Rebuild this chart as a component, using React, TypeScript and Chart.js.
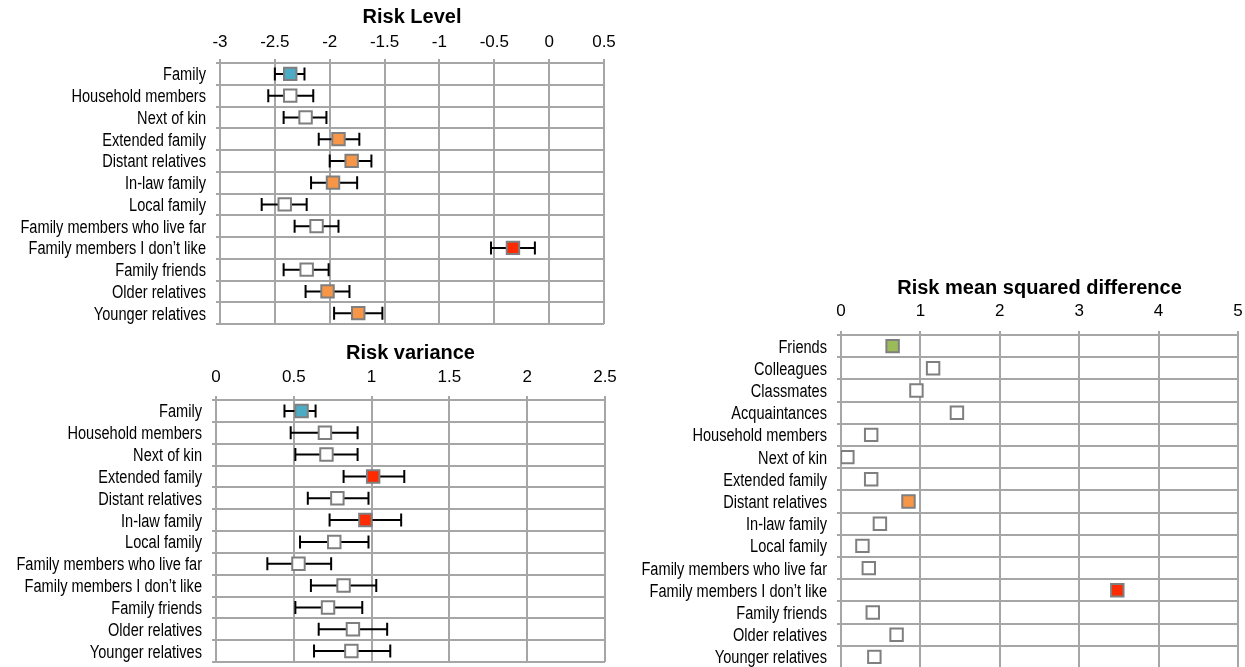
import React, { useEffect, useRef } from 'react';
import { Chart, registerables } from 'chart.js';

Chart.register(...registerables);

// ---------- Data ----------
const familyLabels = [
  'Family',
  'Household members',
  'Next of kin',
  'Extended family',
  'Distant relatives',
  'In-law family',
  'Local family',
  'Family members who live far',
  'Family members I don\u2019t like',
  'Family friends',
  'Older relatives',
  'Younger relatives',
];

const levelMean = [-2.36, -2.36, -2.22, -1.92, -1.8, -1.97, -2.41, -2.12, -0.33, -2.21, -2.02, -1.74];
const levelLow = [-2.5, -2.56, -2.42, -2.1, -2.0, -2.17, -2.62, -2.32, -0.53, -2.42, -2.22, -1.96];
const levelHigh = [-2.23, -2.15, -2.03, -1.73, -1.62, -1.75, -2.21, -1.92, -0.13, -2.01, -1.82, -1.52];
const levelColorKeys = ['blue', 'white', 'white', 'orange', 'orange', 'orange', 'white', 'white', 'red', 'white', 'orange', 'orange'];

const varianceMean = [0.55, 0.7, 0.71, 1.01, 0.78, 0.96, 0.76, 0.53, 0.82, 0.72, 0.88, 0.87];
const varianceLow = [0.44, 0.48, 0.51, 0.82, 0.59, 0.73, 0.54, 0.33, 0.61, 0.51, 0.66, 0.63];
const varianceHigh = [0.64, 0.91, 0.91, 1.21, 0.98, 1.19, 0.98, 0.74, 1.03, 0.94, 1.1, 1.12];
const varianceColorKeys = ['blue', 'white', 'white', 'red', 'white', 'red', 'white', 'white', 'white', 'white', 'white', 'white'];

const msdLabels = [
  'Friends',
  'Colleagues',
  'Classmates',
  'Acquaintances',
  'Household members',
  'Next of kin',
  'Extended family',
  'Distant relatives',
  'In-law family',
  'Local family',
  'Family members who live far',
  'Family members I don\u2019t like',
  'Family friends',
  'Older relatives',
  'Younger relatives',
];
const msdValues = [0.65, 1.16, 0.95, 1.46, 0.38, 0.08, 0.38, 0.85, 0.49, 0.27, 0.35, 3.48, 0.4, 0.7, 0.42];
const msdColorKeys = ['green', 'white', 'white', 'white', 'white', 'white', 'white', 'orange', 'white', 'white', 'white', 'red', 'white', 'white', 'white'];

// ---------- Styles ----------
const palette: Record<string, string> = {
  white: '#ffffff',
  blue: '#4bacc6',
  orange: '#f79646',
  red: '#ff2a00',
  green: '#9bbb59',
};
const gridColor = '#a6a6a6';
const tickFont = "'Liberation Sans', Arial, sans-serif";

// Error bars drawn from the x scale
function errorBarPlugin(lows: number[] | null, highs: number[] | null) {
  return {
    id: 'errorBars',
    beforeDatasetsDraw(chart: any) {
      if (!lows || !highs) return;
      const { ctx } = chart;
      const x = chart.scales.x;
      const y = chart.scales.y;
      ctx.save();
      ctx.strokeStyle = '#000';
      ctx.lineWidth = 2;
      lows.forEach((lo, i) => {
        const yy = y.getPixelForValue(i);
        const x1 = x.getPixelForValue(lo);
        const x2 = x.getPixelForValue(highs[i]);
        ctx.beginPath();
        ctx.moveTo(x1, yy);
        ctx.lineTo(x2, yy);
        ctx.moveTo(x1, yy - 6.5);
        ctx.lineTo(x1, yy + 6.5);
        ctx.moveTo(x2, yy - 6.5);
        ctx.lineTo(x2, yy + 6.5);
        ctx.stroke();
      });
      ctx.restore();
    },
  };
}

// Category labels in a narrow (horizontally condensed) face
const narrowLabelPlugin = {
  id: 'narrowLabels',
  afterDraw(chart: any) {
    const { ctx } = chart;
    const y = chart.scales.y;
    const labels: string[] = chart.data.labels;
    ctx.save();
    ctx.fillStyle = '#000';
    ctx.font = "18px 'Liberation Sans', Arial, sans-serif";
    ctx.textAlign = 'right';
    ctx.textBaseline = 'middle';
    labels.forEach((lab, i) => {
      const yy = y.getPixelForValue(i);
      ctx.save();
      ctx.translate(y.right - 14, yy + 1.5);
      ctx.scale(0.81, 1);
      ctx.fillText(lab, 0, 0);
      ctx.restore();
    });
    ctx.restore();
  },
};

interface Cfg {
  title: string;
  labels: string[];
  values: number[];
  colors: string[];
  lows: number[] | null;
  highs: number[] | null;
  min: number;
  max: number;
  step: number;
  yWidth: number;
  xHeight: number;
  titlePadTop: number;
  tickPad: number;
  padRight: number;
  padBottom: number;
}

function makeChart(canvas: HTMLCanvasElement, c: Cfg) {
  return new Chart(canvas, {
    type: 'line',
    data: {
      labels: c.labels,
      datasets: [
        {
          data: c.values,
          showLine: false,
          pointStyle: 'rect',
          pointRadius: 8.8,
          pointHoverRadius: 8.8,
          pointBackgroundColor: c.colors.map((k) => palette[k]),
          pointBorderColor: '#7f7f7f',
          pointBorderWidth: 2,
        },
      ],
    },
    options: {
      indexAxis: 'y',
      animation: false,
      responsive: false,
      events: [],
      layout: { autoPadding: false, padding: { left: 0, top: 0, right: c.padRight, bottom: c.padBottom } },
      plugins: {
        legend: { display: false },
        tooltip: { enabled: false },
        title: {
          display: true,
          text: c.title,
          color: '#000',
          fullSize: false,
          font: { family: tickFont, size: 20, weight: 'bold' },
          padding: { top: c.titlePadTop, bottom: 0 },
        },
      },
      scales: {
        x: {
          type: 'linear',
          position: 'top',
          min: c.min,
          max: c.max,
          ticks: {
            stepSize: c.step,
            color: '#000',
            padding: c.tickPad,
            font: { family: tickFont, size: 17 },
            callback: (v: any) => String(Math.round(Number(v) * 10) / 10),
          },
          grid: { color: gridColor, lineWidth: 2, tickLength: 4 },
          border: { color: gridColor, width: 2 },
          afterFit: (s: any) => {
            s.height = c.xHeight;
            s.paddingLeft = 0;
            s.paddingRight = 0;
          },
        },
        y: {
          type: 'category',
          offset: true,
          ticks: { display: false, autoSkip: false },
          grid: { color: gridColor, lineWidth: 2, tickLength: 4, offset: true },
          border: { color: gridColor, width: 2 },
          afterFit: (s: any) => {
            s.width = c.yWidth;
            s.paddingTop = 0;
            s.paddingBottom = 0;
          },
        },
      },
    } as any,
    plugins: [errorBarPlugin(c.lows, c.highs) as any, narrowLabelPlugin as any],
  });
}

export default function App() {
  const r1 = useRef<HTMLCanvasElement>(null);
  const r2 = useRef<HTMLCanvasElement>(null);
  const r3 = useRef<HTMLCanvasElement>(null);

  useEffect(() => {
    const c1 = makeChart(r1.current!, {
      title: 'Risk Level',
      labels: familyLabels,
      values: levelMean,
      colors: levelColorKeys,
      lows: levelLow,
      highs: levelHigh,
      min: -3,
      max: 0.5,
      step: 0.5,
      yWidth: 220,
      xHeight: 34,
      titlePadTop: 5,
      tickPad: 6,
      padRight: 16,
      padBottom: 6,
    });
    const c2 = makeChart(r2.current!, {
      title: 'Risk variance',
      labels: familyLabels,
      values: varianceMean,
      colors: varianceColorKeys,
      lows: varianceLow,
      highs: varianceHigh,
      min: 0,
      max: 2.5,
      step: 0.5,
      yWidth: 216,
      xHeight: 35,
      titlePadTop: 11,
      tickPad: 8,
      padRight: 15,
      padBottom: 5,
    });
    const c3 = makeChart(r3.current!, {
      title: 'Risk mean squared difference',
      labels: msdLabels,
      values: msdValues,
      colors: msdColorKeys,
      lows: null,
      highs: null,
      min: 0,
      max: 5,
      step: 1,
      yWidth: 221,
      xHeight: 35,
      titlePadTop: 6,
      tickPad: 9,
      padRight: 7,
      padBottom: 2,
    });
    return () => {
      c1.destroy();
      c2.destroy();
      c3.destroy();
    };
  }, []);

  return (
    <div
      style={{
        position: 'fixed',
        left: 0,
        top: 0,
        width: 1245,
        height: 667,
        overflow: 'hidden',
        background: '#fff',
      }}
    >
      <canvas ref={r1} width={620} height={330} style={{ position: 'absolute', left: 0, top: 0, width: 620, height: 330 }} />
      <canvas ref={r2} width={620} height={337} style={{ position: 'absolute', left: 0, top: 330, width: 620, height: 337 }} />
      <canvas ref={r3} width={625} height={400} style={{ position: 'absolute', left: 620, top: 270, width: 625, height: 400 }} />
    </div>
  );
}
